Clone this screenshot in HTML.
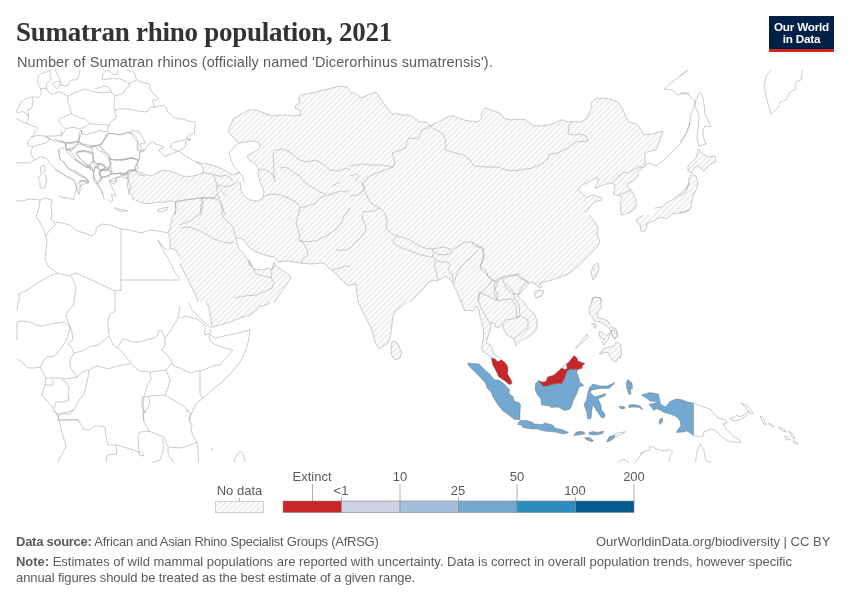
<!DOCTYPE html>
<html><head><meta charset="utf-8">
<style>
html,body{margin:0;padding:0;background:#fff;}
.t,.lg,.ft,#logo{will-change:transform;}
body{width:850px;height:600px;position:relative;overflow:hidden;font-family:"Liberation Sans",sans-serif;}
.t{position:absolute;white-space:nowrap;line-height:1;}
#title{left:16px;top:19px;font-family:"Liberation Serif",serif;font-weight:bold;font-size:27px;color:#333;letter-spacing:-0.26px;}
#sub{left:17px;top:55px;font-size:14.5px;color:#5b5b5b;letter-spacing:0.1px;}
#logo{position:absolute;left:769px;top:16px;width:65px;height:36px;background:#002147;}
#logo .bar{position:absolute;left:0;bottom:0;width:65px;height:3px;background:#ce261e;}
#logo .l{position:absolute;width:65px;text-align:center;color:#fff;font-weight:bold;font-size:11.7px;letter-spacing:-0.2px;}
.lg{position:absolute;font-size:13px;color:#5b5b5b;}
.ft{position:absolute;font-size:13px;color:#5b5b5b;white-space:nowrap;}
.ft b{color:#5b5b5b;}
</style></head><body>
<svg id="map" width="850" height="600" style="position:absolute;left:0;top:0">
<defs><pattern id="nd" patternUnits="userSpaceOnUse" width="4" height="4" patternTransform="rotate(-45 2 2)"><path d="M-1,2 l6,0" stroke="#ccc" stroke-width="0.7"/></pattern></defs>
<path fill="url(#nd)" d="M232,136 228,131 233,119 238,116 249,110 256,110 264,113 272,116 280,115 286,115 294,116 301,115 300,110 295,108 296,105 300,103 299,98 301,95 312,93 324,90 332,88 340,86 347,87 350,91 350,182 260,182 259,178 258,174 259,170 257,166 253,162 249,160 247,156 250,154 254,152 258,150 260,146 259,143 254,141 246,142 239,143 236,140ZM350,93 355,93 361,98 368,95 376,92 385,105 393,115 396,113 402,115 409,115 414,118 420,122 427,122 430,126 438,122 446,118 452,115.6 459,118 464,120 470,121 478,122 482,118 481,114 485,108 494,111 500,113 504,118 510,120 520,119 520,182 350,182ZM645,153 645,160 585,160 585,182 520,182 520,119 526,120 533,125.6 542,126 552,124 562,119.6 568,122 574,121.6 580,122 586,119 589,113 592,108 591,103 595,99 604,98 612,99.6 618,102 622,108 626,117 629,122 636,124 640,128 644,135 652,134 663,131 660,140 656,150 650,151ZM698,149 703,154 708,157 715,156 716,162 710,164 704,171 698,166 694,168 691,173 688,171 688,166 692,162 696,158ZM689,178 692,174 696,176 697.6,182 688,182ZM175,202 180,200 180,258 176,250 170,248 170,238 168,233 170,228 172,218 176,210ZM180,182 350,182 350,302 180,302ZM350,182 520,182 520,302 350,302ZM520,182 585,182 585,182.8 582,185 578,190 582,193 585,196 585,215 589,215 591,217 595,222 598,228 597,234 599,240 597,246 594,251 590,256 584,262 578,268 570,273 562,277 552,280 544,282 539,284 540,288 536,287 530,282 524,280 520,278ZM686,188 690,182 690,210 686,211 680,213 672,214 666,219 660,217 654,221 650,222 647,224 646,229 643,232 641,231 640,225 636,221 637,219 642,216 643,215 655,215 655,207.9 662,207 668,202 674,199 680,194ZM593,280 591,272 594,265 598,263 599,268 595,278ZM536,298 534,292 540,290 544,291 542,296ZM520,294 520,278 524,280 529,283 526,287 522,291ZM592,302 592,299 596,297 601,298 602,302ZM689,182 698,182 697,188 694,194 692,200 691,208 686,212 680,213 680,196 686,192 688,186ZM133,170 135,169.5 135,195 128,195 129,191 131,187 129,183 128,179 129,175 127,172 129,171ZM206,302 270,302 270,303 266,305 260,306 256,311 250,315 240,318 230,322 220,325 212,327 211,320 210,314 209,308ZM358,302 407,302 402,306 396,310 393,316 392,324 391,332 390,339 387,344 383,346 379,349 375,342 373,334 370,326 366,318 362,310ZM392,342 395,341 399,346 401.6,353 400,358 395,360 392,356 391,349ZM140.8,175 145,175.8 145,200 133.3,200 132.5,196.7 130,193.3 128.3,189.2 127.1,185.8 128.3,180.8 127.5,178.3 127.5,175 126.7,171.7 133.3,170 136.7,171.7 138.3,174.2ZM585,160 645.5,160 644.6,165.5 643.7,166.4 641,169.2 638.2,172.8 637.7,176.5 632.7,181.1 627.2,183.8 628.1,187.5 630.8,189.3 633.6,193.9 635.4,198.5 636.3,204 634.5,209.5 629.9,212.2 625.3,214.1 621.7,215 620.7,211.3 620.7,205.8 619.8,201.2 621.7,198.5 619.8,194.8 617.1,195.7 613.4,193.9 614.3,190.2 615.2,184.7 611.6,183.4 604.2,184.3 599.7,186.6 595,188.4 597,183.8 598.7,179.7 597,177.4 590.5,181 585,184.7ZM586.8,211.3 585,213.2 585,198.5 593.2,194.8 597.8,196.7 601.5,197.6 601,200.3 596,201.2 590.5,205.8ZM600,240 598,246 592,252 584,260 576,268 568,274 560,277 552,280 544,282 540,283 542,287 540,288 534,283 528,282 524,285 520,290 518,296 522,300 528,308 534,314 537,320 537,328 534,333 526,338 520,341 516,346 514.4,339 511.4,337.4 507,335 504,330 502.4,324.8 499.4,327.4 495.4,327 495,323.6 491,323 490.4,328.4 489,333.8 488.4,335 487,340 486.4,343.4 490,344.4 492,348 493,351.4 494.4,354.4 497,356.4 499,357 501,359 491.4,357.4 488.4,355 485.4,353 482.4,351 481.8,348.4 482,345 483,340 483.4,335 483.8,333.8 483,328.4 482,322.4 480,317 479.2,311 476,306 473,311 464,310 462,304 460,294 456,286 453,282 450,278 446,279 440,280 440,240ZM136,200.8 135.5,200 145,200 145,182 205,182 205,163.3 214,165.6 220.1,167.9 226.2,170.9 229.3,173.2 232.4,174.8 237,173.2 240,172.5 240,215 175,215 175.8,208.4 175.8,202.3 171.2,200.8 165.1,202.3 158.9,202.3 152.8,203.1 146.7,203.8 140.6,202.3ZM203,173 205,172.5 205,182 125,182 125,175 127,171.5 130,170 134,170 136,171 140,172 146,175 152,176 158,172 163,170.5 170,171 176,173 182,176 190,176.5 198,175ZM196,162 205,164 205,172.5 203,173 203.5,170 202,166 199,163.5ZM614.5,435 617.5,433 625.5,431.8 622,434 617,436.5 614.5,437.5ZM593,297.5 600,297.5 601,302 601,308 598,311.5 597,314 598,318 602,318.5 608,321 610,325.5 612,327.5 616,328.5 617.5,334 614.5,339 611.5,334 610,329 604,324 600,322 594,321 593,318 589.5,314 589,308.5 591,305ZM591.5,323 596.5,324.5 595.5,328.5ZM575.5,348 587,334 588,337 576.5,348.5ZM599,331.5 603,332.5 606,335.5 610,333 609,338 604,345 601.5,342 605,339 600,337.5ZM611.5,330 616,331 618,336 615,339 612,336ZM599,354 604,348.5 608,347.5 613,346 616.5,342 620.5,344 621.5,353 620.5,358 618.5,357 616,362 612,360 609.5,356.5 609,353 605,352.5ZM561.5,368 564.5,364.5 566.5,363.5 567,368.5 565,369.5Z"/>
<path fill="#fff" d="M240,182 260,182 262,186 264,192 263,198 258,201 250,200 244,196 241,190ZM236,239 240,238 244,240 248,246 254,251 262,254 268,256 274,257 276,259 278,262 288,261 300,263 310,264 324,263 329,268 334,272 340,278 346,284 350,286 350,302 274,302 276,300 280,294 284,288 288,282 291,278 288,274 282,270 276,266 274,262 273,266 271,270 268,268 264,270 254,269 251,265 250,261 246,258 244,254 240,250 237,244ZM180,264 183,270 187,278 191,286 195,294 198,302 180,302ZM350,285 356,284 357,294 358,302 350,302ZM410,302 416,296 422,290 427,284 429,282 434,280 437,281 442,278 445,276 448,278 451,280 453,284 455,288 458,294 461,302Z"/>
<path fill="#73a8d0" stroke="#6b6b6b" stroke-width="0.4" stroke-linejoin="round" d="M467.5,363 479,364 484,369 490,374.5 494.5,380 498.5,380 503,383 507,387 509.5,389.5 509,393 510.5,395 513,396.5 514.5,401.5 519,402.5 520.5,405 520,412 520,419.5 514.5,419.5 508,414.5 503,411 498,405 493,397 491,392 487,388 485,382 482,379.5 479,376 475,372 468.5,365.5ZM517.5,424.5 520,420.5 527,420.5 533,422.5 534,424 542.5,424.5 544.5,423 552.5,424.8 555,428 562,429.5 568.5,432.5 563.5,434 555,432 544,431 537.5,429 532,429 523,427.5 521,425ZM538.5,380.5 543,386 548,386 551,384.5 556,383.5 562,383.5 565,377 567,371 570.5,369 575,369.5 579,369 576.5,372 579,378 579.5,382 584,385.5 579,387 577.5,392 575,397 573,401 572,405 570,409 564.5,410.5 558,407 551,407.5 550,406 541.5,405 541,399 537.5,395 535,389 535.5,383.5ZM593,384 600,386 607,386 615,382.5 613,385 609,388.5 600,388.5 592,390 590,392.5 595,397 605.5,393.5 605.5,395.5 598,399 601,405 601.5,410 605,414 604,418 601.5,417.5 598,413 595,408 593,404.5 592,409 591,418.5 587.5,419 587,413 584,404.5 586.5,400 588,392 589.5,387.5ZM628,379.5 632,383 632.5,388.5 630.5,389 631,394 629,394.5 626.5,387.5 626.5,382ZM619,406.5 624,406.5 625.5,408 623,409 620.5,408.5ZM629,405 634,404.5 640,406 643,409.5 639,407.5 634,407 628.5,407.5ZM641.5,395 650,392.5 658.5,394 660.5,404 665.5,407 670,401.5 676,399 681,399.5 688,402 693.5,403 693.5,435.5 690,433 687,431 683,432 676.5,432.5 677.5,430 680,427 681,427 680,421 677,417 670,414 664,412.5 660,410 656,408.5 654.5,410.5 652.5,409 651.5,407 649,404.5 657,402.5 656,401.5 650,401 647.5,399ZM660,419 662.5,418 662.5,422 660,424.5 659,422ZM573.5,435.5 576,432.5 579.5,431.2 584,432 585,433.8 580,434.8ZM589,432.5 593,431.5 598,432.5 603.5,431 603,433.5 596,435 589.5,434.5ZM584.5,438 589,437.2 593.5,440.5 592,441.8 587,440ZM606.5,442 609,437 614.5,435 614.5,437.5 611,440.5Z"/>
<path fill="#c9262a" stroke="#6b6b6b" stroke-width="0.4" stroke-linejoin="round" d="M491.5,357.5 493.5,358.5 496,359.5 497,361.5 499.5,361 501,359.5 505,362.5 507.5,366 508,370 507.5,374 509.5,377 511.5,381 512,383.5 510,384.5 508.5,384 505,381 502,379 498.5,376.5 497.5,374 495,369 493,365.5 492,362ZM538.5,380.5 542.5,382 546,381.5 547.5,377 554,375 560.5,369 561.5,368 565,369.5 567,368.5 566.5,363.5 568,363 574,355.5 577,358 578,361 585,363.5 582.5,365.5 582,368.5 579,369 575,369.5 570.5,369 567,371 565,377 562,383.5 556,383.5 551,384.5 548,386 543,386Z"/>
<path fill="none" stroke="#a8a8a8" stroke-width="0.6" stroke-linejoin="round" d="M228,131 233,119 238,116 249,110 256,110 264,113 272,116 280,115 286,115 294,116 301,115 300,110 295,108 296,105 300,103 299,98 301,95 312,93 324,90 332,88 340,86 347,87 350,91M228,131 232,136 236,140 239,143 246,142 254,141 259,143 260,146 258,150 254,152 250,154 247,156 249,160 253,162 257,166 259,170 258,174 259,178 260,182M239,143 233,148 229,153 231,160 234,166 238,171 242,175 244,182M273,152 273.6,162 274,174 275,182M273,151 282,149 288,151 294,156 300,160 306,162 316,160 324,165 330,170 338,171 346,168 350,170M258,170 264,169 268,171 272,174 274,178M280,168 286,167 292,171 300,176 304,182M180,119 184,119 188,121 195,122M350,93 355,93 361,98 368,95 376,92 385,105 393,115 396,113 402,115 409,115 414,118 420,122 427,122 430,126 438,122 446,118 452,115.6 459,118 464,120 470,121 478,122 482,118 481,114 485,108 494,111 500,113 504,118 510,120 520,119M430,126 427,128 422,130 420,136 416,139 409,138 407,142 405,148 398,151 392,153 395,162 393,167 382,171 374,174 368,177 364,182M350,166 362,164 372,165 382,165 393,167M350,176 356,174 359,176.4 355,181M430,126 434,129 442,133 445,138 446,144 445,150 456,153 464,155 470,160 474,166 486,167 498,167 506,170 512,171 520,170M520,119 526,120 533,125.6 542,126 552,124 562,119.6 568,122 574,121.6 580,122 586,119 589,113 592,108 591,103 595,99 604,98 612,99.6 618,102 622,108 626,117 629,122 636,124 640,128 644,135 652,134 663,131 660,140 656,150 650,151 645,153 645,160M520,170 532,168 542,164 547,160 549,154 557,153 566,149 576,142 588,141 586,136 580,134 574,135 568,134 569,126 572,122M655,165.7 656,166 664,160 672,152 680,144 686,134 689,126 690,122M664,89 672,90 678,95 686,93 690,94M687,70 680,76 672,82 664,89M771,70 766,76 764,86 767,100 771,114 778,108 780,102 786,100 789,93 796,89 795,85 797,81 801,80 802,74 802.4,70M680,93 686,93 691,97 695,102 694,108 691,114 689,126 686,134 680,142M700,92 702,95 704,104 705,114 711,127 705,126 703,130 703,136 706,144 699,146 697,138 698,128 699,118 697,110 695,106 696,99 700,93M698,149 703,154 708,157 715,156 716,162 710,164 704,171 698,166 694,168 691,173 688,171 688,166 692,162 696,158 698,149M689,178 692,174 696,176 697.6,182M688,182 689,178M680,76 688,70M16,201 22,201 30,199 40,200 45,198 52,200M40,200 39,208 36,217 39,221 43,228 46,236M52,200 51,206 52,214 51,219 54,222 55,225 49,231 46,236M55,222 62,223 70,225 75,230 84,233 92,236 96,233 96,228 102,224 110,225 116,227 121,229M121,229 130,230 141,233 150,230 158,231 168,233M121,229 121,291M121,280 180,280M46,236 47,242 46,250 45,259 48,266 57,273 68,276 76,273 96,282 115,291 121,290M71,276 74,282 76,288 74,302M57,273 46,278 36,284 26,291 18,294M19,294 19,302M115,291 115,302M40,182 40,188 45,188 46,182M73.4,195 74,200 68,198 60,197 59,195M108,200 112,202 112.7,200M158,240 164,248 168,250 170,248M158,240 162,248 168,258 172,266 176,274 180,278M180,200 175,202 176,210 172,218 170,228 168,233 170,238 170,248 176,250 180,258M240,182 241,190 244,196 250,200 258,201 263,198 264,192 262,186 260,182M236,239 240,238 244,240 248,246 254,251 262,254 268,256 274,257 276,259 278,262 288,261 300,263 310,264 324,263 329,268 334,272 340,278 346,284 350,286M274,302 276,300 280,294 284,288 288,282 291,278 288,274 282,270 276,266 274,262 273,266 271,270 268,268 264,270 254,269 251,265 250,261 246,258 244,254 240,250 237,244 236,239M180,264 183,270 187,278 191,286 195,294 198,302M180,201 192,199 202,198 214,198 217,194M202,198 201,206 200,214 190,221 180,225M180,228 190,227 198,230 206,234 214,239 223,242 230,243 234,242M216,186 218,196 222,204 222,216 228,222 233,227 235,234 236,238M216,186 220,185 224,187 229,186 234,184 238,182M264,196 272,194 280,195 288,198 294,201 298,204 300,208M300,208 298,216 296,222 298,230 300,236 299,240 302,242M300,240 304,244 308,252 307,256 303,258 301,263M300,241 308,242 318,240 328,235 336,229 342,222 344,216 348,212 350,208M300,208 308,206 316,203 320,198 324,196 332,194 340,191 346,192 350,190M304,182 310,186 320,192 326,194M332,186 336,184 340,182M332,270 340,268 344,266 348,266 350,267M336,250 346,250 350,248M248,260 250,262 252,266 249,265 248,260M253,268 256,274 264,276 271,278 272,270 274,266M234,298 244,296 256,295 266,291 272,288 274,282 271,278M350,285 356,284 357,294 358,302M410,302 416,296 422,290 427,284 429,282 434,280 437,281 442,278 445,276 448,278 451,280 453,284 455,288 458,294 461,302M362,182 364,190 368,198 372,204 380,208 385,213 387,222 386,228 392,234 398,236M398,236 404,238 410,240 416,244 422,247 428,249 433,249 433,257 426,256 418,254 410,251 402,248 394,244 393,240 398,236M433,249 438,248 444,247 450,249 452,252 450,254 442,255 436,254 435,251M452,250 458,246 466,242 472,242 474,246 478,247 482,248 484,254 482,262 480,268 484,272 488,276 492,280 498,282 500,278 506,276 514,275 520,274M434,257 436,260 434,264 436,270 438,280M436,260 440,262 448,262 450,266 448,270 452,274 453,282M478,250 474,254 470,258 465,262 462,266 459,270 456,276 454,284M492,280 490,284 484,290 480,294 478,302M498,282 496,286 494,294 498,302M502,278 506,288 514,294 520,294M350,196 358,195 362,192 365,188 362,182M362,212 374,211 380,208M363,214 362,218 365,224 366,230 362,236 356,242 350,248M690,182 686,188 680,194 674,199 668,202 662,207 655,207.9M643,215 642,216 637,219 636,221 640,225 641,231 643,232 646,229 647,224 650,222 654,221 660,217 666,219 672,214 680,213 686,211 690,210M591,272 594,265 598,263 599,268 595,278 593,280 591,272M534,292 540,290 544,291 542,296 536,298 534,292M520,278 524,280 529,283 526,287 522,291 520,294M592,299 596,297 601,298 602,302M592,302 592,299M585,182.8 582,185 578,190 582,193 585,196M589,215 591,217 595,222 598,228 597,234 599,240M698,182 697,188 694,194 692,200 691,208 686,212 680,213M680,196 686,192 688,186 689,182M55,139 59,142 65,143 70,142.5 75,142 79,141.5M79,135 79,141.5 82,144.5 87,146.5 91,147 95,145.5 99,145 102,142 105,138 107,135M65,143 65.5,148 67.5,149.5 72,148 75.5,145 79,141.8M58.5,149 59,155 60,159 64,162 66,165 69,168 72,170 75,171 78,173 81,175 84,177 87,179 89,182 88,183M66,149 67,152.5 70,154 71.5,156 72.5,158 75,160 78,162 82,164 86,166 89.5,168M76.5,153 79,151 84,150.5 89,151.5 92,153 93,154 92.5,157 93.5,160 93,161.5M76.5,153 78,156 81,159 85,163 89,166 90,167M91,147 92,150 93,153.5M93,161.5 96,163 99,164 101,164 104,166 106,168M99,145 102,148 105,151 107,154 109,155 109.5,158 109,161 110.5,163 110,166 109,169M89.5,165 90,169 93,170.5 95,168 96,167 93,161.5M97,167 100.5,163.5 104,166 105,168 102,169.5 100,170.5 98,169 97,167M93,169 94,171 93.5,175 94,178 96,181 98,184 99.5,181 101,179 102,177M100,170.5 102,169.5 107,169.5 109.5,170 111,172.5 110,175 107,176 104,177 101.5,177.5 99.5,175 99,172M109,159 113,160 117,160 121,159.5 125,159 129,158 133,158.5 135,159M111,174 115,173.5 119,173.5 123,174 127,173 129,171 133,170 135,169.5M98,184 100,188 102,191 103,195M109.5,181 111,182 113,184 115,183 116,178 119,177 122,177 125,178 127,179M55,170 61,173 66,176 71,178 75,181 76.5,185 76.5,189 75,193 75,195M79,181 83,180.5 86,181 88.5,182 88,183 85,184 82,184.5 80,186 79,189 79,195M127,172 129,175 128,179 129,183 131,187 129,191 128,195M18,302 17,310M17,322 22,321 30,322 36,325 42,326 50,324 58,323 63,322 67,324 70,327M17,322 17,340M74,302 73,306 68,311 66,316 68,322 70,327M70,327 69,332 67,339 64,344 60,350 56,355 52,357 48,356 44,360 40,367M17,359 22,362 28,368 34,368 40,367M70,327 72,332 73,340 70,342 68,344 72,348 74,353M74,353 82,351 91,346 98,345 104,340 109,336 111,340 113,345 118,348M115,302 115,311 110,314 108,320 108,328 109,335M118,347 122,340 126,339 132,342 140,342 146,340 154,338 158,335 159,330 162,331 165,339 165,345 162,350M180,306 178,318 172,328 168,334 165,339M89,370 96,366 102,367 108,369 114,367 122,365 130,364M74,353 70,360 70,366 74,373 77,377M118,348 124,354 130,362 134,367 140,371 150,372M162,350 168,356 172,362 174,366 180,368M150,372 158,371 166,370 172,363M150,372 151,379 148,384 146,390 144,396M166,370 170,380 168,388 165,395M148,396 165,395 180,404M77,377 66,379 58,378 46,378 45,385 53,385 53,380M46,378 40,367M45,385 42,395 48,402 53,408 58,416 59,422M77,377 82,372 89,370 88,378 86,386 84,394 79,400 76,406 70,414 62,414 58,416M62,380 66,382 69,388 68,394 69,400 62,402 56,402 54,408M142,398 148,396 150,402 148,408 144,412 142,406 142,398M144,396 143,406 143,414 144,422M59,420 78,420 79,422M206,302 209,308 210,314 211,320 212,327 220,325 230,322 240,318 250,315 256,311 260,306 266,305 270,303 270,302M188,302 192,310 198,316 204,322 208,326 211,328M180,318 186,316 192,318 198,319 206,327M206,328 204,332 205,335 209,334 211,332 210,329M209,334 215,338 224,336 234,334 242,332 250,330 249,338 246,350 240,362 232,372 222,382 212,390 203,398 196,404 193,410 190,416 189,422M209,335 210,340 214,344 222,347 233,350 226,358 220,365 214,365.6 206,369 200,371 196,371 192,373 186,371 180,368M200,371 200,384 200,394 203,398M180,404 184,406 188,411 191,414M358,302 362,310 366,318 370,326 373,334 375,342 379,349 383,346 387,344 390,339 391,332 392,324 393,316 396,310 402,306 407,302M392,342 395,341 399,346 401.6,353 400,358 395,360 392,356 391,349 392,342M52,410 57,414 59,420 61,428 63,436 66,446 63,452 60,458 58,462.4M57,414 62,413 68,412 74,410M59,420 78,419.6 84,430 90,430 94,426 99,426 105,427 106,436 108,445 116,445 117,454 107,455 106,462.4M116,445 124,447 130,449 134,450 138,452 142,452 144,456 139,455 138,436 140,432 150,431M143,410 146,412 143,414 144,422 149,431 156,434 164,437 168,447 180,448M162,438 164,446 162,454 160,460 152,462.4M168,448 168,454 172,460 174,462.4M186,410 191,414 189,420 192,425 191,430 193,436 197,442 198,450 198.4,462.4M180,448 188,446 197,442M234,462.4 235,458 240,451 243,454 245.6,462.4M211,448 213,451M35.2,130 34.5,134.6 31.4,136.9 27.6,142.2 28.4,145.3 32.9,146.8 31.4,149.9 30.6,152.9 32.9,157.5 35.2,159.8M31.4,136.9 37.5,135.4 45.2,136.1 49.8,138.4 48.2,141.5 45.2,143 40.6,144.5 36,145.3 32.9,146.8M45.2,136.1 49.8,139.2 54.4,140.7 62,140.7 66.6,143 72.7,143.8 77.3,140.7 80.4,136.9 79.6,133.8 80.4,130M45.2,136.1 52.8,136.1 60.5,135.4 63.5,133.1 65.1,130M16.1,162.9 23.8,162.9 29.9,162.9 32.9,160.6 35.2,159.8 40.6,156.8 46.7,158.3 49.8,163.6 55.9,169 62,173.6 68.1,177.4 74.2,180.5 75.3,182M58.9,149.1 59.7,159.1 64.3,162.9 67.4,168.2 72.7,171.3 77.3,174.4 81.9,176.7 86.5,178.9 88.8,182M88.8,182 86.5,181.2 81.9,180.5 79.6,182M40.6,166.7 44.4,165.2 45.2,169.8 43.6,172.8 45.9,175.9 46.7,182M39.1,182 38.3,177.4 41.4,174.4 40.6,169.8 40.6,166.7M65.8,143.8 66.6,149.1 71.2,150.6 74.2,148.4 77.3,144.5 81.9,143.8M66.6,149.9 71.2,151.4 74.2,156 77.3,160.6 81.9,164.4 86.5,167.5 89.5,166.7 93.4,167.5M75.8,152.9 83.4,151.4 89.5,152.9 93.4,154.5 93.4,160.6 89.5,165.2 86.5,166.7M91.1,145.3 95.7,146.8 98.7,149.9 103.3,152.9 106.4,156 109.4,159.1 110.9,163.6 107.9,168.2 103.3,164.4 98.7,163.6 97.2,166.7 94.1,168.2M77.3,140.7 81.9,143.8 91.1,145.3 95.7,146.1 101.8,144.5 104.8,139.2 107.9,134.6 109.4,131.5M104.8,136.1 109.4,133.1 117.1,134.6 126.2,133.1 132.4,133.1 137,137.6 138.5,145.3 137,149.9 140,151.4M109.4,159.1 117.1,159.8 126.2,159.1 132.4,158.3 138.5,159.8M110.9,163.6 110.9,169.8 114,173.6 120.1,172.8 126.2,173.6 130.8,172.1 135.4,170.5 138.5,168.2 137,165.2 138.5,160.6M89.5,166.7 92.6,169.8 94.1,175.9 95.7,180.5 97.2,182M99.7,182 101.8,178.9 100.2,174.4 101.8,169.8 106.4,171.3 107.9,168.2M100.2,171.3 107.9,169.8 110.9,172.8 109.4,176.7 101.8,177.4M109.9,182 109.4,180.5 112.5,178.9 117.1,177.4 120.1,175.9 126.2,175.1M137,130 140,131.5M40.4,74 38.3,76.7 37.7,82 38.8,86.3 40.4,88.4 46.8,88.4 46.3,86.3 46.8,84.1 48.4,82 50.5,79.9 51.1,77.7 49.5,75.6 50.5,73.5 50,70.3 47.3,71.3 44.1,72.9 40.4,74M52.7,83.1 59.1,80.9 60.1,83.6 59.1,86.8 56.9,88.9 54.8,86.8 52.7,84.1 52.7,83.1M55.3,70.3 58,75.6 60.1,79.9 61.2,85.2 64.4,85.7 68.1,85.2 69.7,82 71.3,79.9 76.7,79.9 78.3,76.7 79.3,73.5 79.9,70.3M40.4,88.4 41.5,93.7 38.3,97.5 32.9,96.9 29.2,97.5 23.9,99.6 20.7,102.3 18.5,107.6 16.4,111.9 18.5,112.9 22.3,111.3 27.6,115.1 28.7,117.2M32.4,97.5 32.9,100.1 32.4,105.5 31.3,108.7 27.6,109.7 28.1,112.9 28.7,116.1 28.1,120.4 27.1,121.5 26.5,123.6 28.1,124.1M16.4,118.3 20.7,120.9 26.5,123.6M46.8,88.4 47.9,91.1 52.1,94.3 55.9,93.2 59.6,91.6 63.3,93.7 67.6,96.4M67.6,96.4 74,93.2 79.3,91.1 84.7,88.9 88.9,90 92.1,91.6 95,91.6M67.6,96.4 68.1,100.1 67.6,102.3 69.7,106 70.3,109.7 71.9,113.5M71.9,113.5 65.5,116.1 59.6,118.3 59.1,121.5 62.3,125.7 65.5,128.9 69.7,127.9 74,127.3 78.3,128.9 82.5,127.9 86.8,125.7 90,123.6 92.1,124.1 95,123.6M71.9,113.5 74,115.6 78.3,116.1 80.4,118.3 84.7,118.8 87.9,121.5 90,123.1M28.1,124.1 31.3,125.7 37.7,127.3 36.7,130M102.5,79.9 102.5,76.7 103,73.5 105.7,70.8 108.9,70.3 111.5,72.9 113.7,74.5 116.9,74.3 117.6,70.3M127,70.3 132.3,71.3 135,73.5 135.5,76.7 136.6,79.9M102.5,79.9 108.9,78.8 119.5,78.8 122.7,79.9 127,82 129.1,83.6 129.7,86.3M129.7,86.3 127,87.9 124.9,89.5 123.8,92.7 120.6,94.3 117.4,95.3 114.7,95.3M102.5,85.7 105.7,86.3 108.9,87.3 111,90.5 111,92.1 114.7,95.3M95,88.9 98.2,87.9 102.5,86.8M95,92.1 101.4,92.7 111,92.1M114.7,95.3 114.7,99.1 113.7,104.4 114.2,108.7 115.3,110.8M129.1,83.6 136.6,79.9 140.9,82 145.1,83.1 149.4,84.1 150.5,86.3 149.9,88.9 152.6,92.7 155.8,95.9 158.5,98.5 156.3,100.1 152.6,100.1 153.7,104.4 154.7,107.1M114.7,110.8 119.5,108.7 125.9,108.7 132.3,109.7 139.8,111.3 145.1,111.9 148.3,111.3 148.9,108.7 150.5,107.6 154.7,107.1M114.7,110.8 115.8,115.1 116.3,118.3 112.1,120.4 109.4,123.6 107.8,130M154.7,107.1 159,106 164.3,105.5 166.5,107.6 167.5,111.9 171.8,115.1 173.9,117.7 180,119.3M95,124.7 100.3,124.1 105.7,124.7 108.9,125.7M75.8,152.5 78.3,151.2 84.2,151.2 89.2,151.7 92.5,152.5 92.9,155.8 93.3,159.2 94.6,160.8M75,159.2 78.3,160.8 81.7,163.3 85,165.8 88.3,167.5 91.7,169.2 93.8,170.8M76.7,154.2 80,158.3 83.3,161.7 86.7,165 89.6,166.7M89.6,166.7 91.2,162.5 94.6,160.8 97.5,164.6 95,167.5 93.8,170.8M97.5,164.6 100,163.3 102.5,165 105,167.9 102.5,169.6 100,170 98.3,167.9 97.5,164.6M101.7,150 105,152.5 108.3,154.2 109.2,157.5 110,160 111.2,162.9 110,165 108.8,167.5 108.3,169.2M93.8,170.8 93.3,176.7 93.8,180.8 96.7,184.2 99.2,180 100.8,177.5 100,174.2 99.6,170.8 98.3,167.9 95,167.5M100,170 105,168.8 108.3,169.2 110.8,170.8 111.7,174.2 108.3,175.4 104.2,176.7 100.8,177.1 99.2,174.2 99.6,170.8M109.2,157.5 110.8,159.2 116.7,160 123.3,160 128.3,158.8 132.5,157.5 135.8,159.6 138.3,160.4 137.1,163.3 135,166.7 135.8,170 133.3,170 130,170 127.5,171.7 125,174.2 121.7,173.8 118.3,173.3 115,174.2 111.7,174.2M138.3,160.4 140,157.5 139.2,153.3 140.8,150.8 145,150M96.7,184.2 99.2,188.3 101.7,191.7 103.3,195.8 104.2,200M127.5,171.7 126.7,171.7M115,178.3 117.5,180 116.7,181.7 114.2,180.8 110.8,180.8 110,182.5 111.7,186.7 113.3,190 115,193.3 115.8,196.7 114.2,195 111.7,194.2 112.5,200M75,170 77.5,172.5 81.7,175.8 85.8,178.3 88.3,181.7 86.7,183.3M86.7,183.3 83.3,180.8 80,181.7 78.3,183.3 80.8,185 81.7,190 78.3,193.3 77.5,190 75.8,185 75,183.3M126.7,171.7 127.5,175 127.5,178.3 128.3,180.8 127.1,185.8 128.3,189.2 130,193.3 132.5,196.7 133.3,200M133.3,170 136.7,171.7 138.3,174.2 140.8,175 145,175.8M645.5,160 644.6,165.5 643.7,166.4 641,169.2 638.2,172.8 637.7,176.5 632.7,181.1 627.2,183.8 628.1,187.5 630.8,189.3 633.6,193.9 635.4,198.5 636.3,204 634.5,209.5 629.9,212.2 625.3,214.1 621.7,215M621.7,215 620.7,211.3 620.7,205.8 619.8,201.2 621.7,198.5 619.8,194.8 617.1,195.7 613.4,193.9 614.3,190.2 615.2,184.7 611.6,183.4 604.2,184.3 599.7,186.6 595,188.4 597,183.8 598.7,179.7 597,177.4 590.5,181 585,184.7M611.6,182.9 615.2,179.2 621.7,173.7 624.4,172.4 629,172.8 630.8,171 636.3,168.2 640,166.4 642.7,168.2 644.6,165.5M619.8,194.8 625.3,192.1 629.9,191.6 630.8,189.3M644.6,165.5 650,163.2 655,165.5M585,198.5 593.2,194.8 597.8,196.7 601.5,197.6 601,200.3 596,201.2 590.5,205.8 586.8,211.3 585,213.2M81.6,130 82,133.5 86,135 90,133.5 96,132 100,130.5 104,131.5 107.5,131.5 108.1,130M81.5,130 81.5,134 79.5,135.5 79,139 78.5,142M60,141.5 66,143 72,142.5 78.5,142M78.5,142 83,145 87,147 91,147.5 95,146 99,145M109,133.5 107,135 105,138 103,142 101,144 99,145M91,147.5 93,150M99,145 101,148 102.3,150M109,133.5 114,133.5 120,135M66,143 65.5,147 66,150M66,150 69,149 73,149 76,146 78.5,143.5M60,148 64,148.5M60,130 62,132 61,136 62,137M600,240 598,246 592,252 584,260 576,268 568,274 560,277 552,280 544,282 540,283 542,287 540,288 534,283 528,282 524,285 520,290 518,296 522,300 528,308 534,314 537,320 537,328 534,333 526,338 520,341 516,346 514.4,339 511.4,337.4 507,335 504,330 502.4,324.8 499.4,327.4 495.4,327 495,323.6 491,323 490.4,328.4 489,333.8 488.4,335 487,340 486.4,343.4 490,344.4 492,348 493,351.4 494.4,354.4 497,356.4 499,357 501,359M491.4,357.4 488.4,355 485.4,353 482.4,351 481.8,348.4 482,345 483,340 483.4,335 483.8,333.8 483,328.4 482,322.4 480,317 479.2,311 476,306 473,311 464,310 462,304 461,300M472,242 483,248 484,258 480,266 487,272 488,277 495,281 500,278 504,278 516,275 524,279 528,282M495,281 494,288 498,294 496,300 500,300 512,299 516,306 517,318 520,316M506,284 514,292 514,298 519,304 520,316 528,320 528,328 520,334 514.4,339M502.4,324.8 506,320 512,319 520,316M479,292 478,299 481,308 484,313 489,322 491,323M479,292 492,298 496,300M135.5,200 136,200.8 140.6,202.3 146.7,203.8 152.8,203.1 158.9,202.3 165.1,202.3 171.2,200.8 175.8,202.3 175.8,208.4 175,215M205,163.3 214,165.6 220.1,167.9 226.2,170.9 229.3,173.2 232.4,174.8 237,173.2 240,172.5M205,173.6 207.9,173.2 214,174.8 215.5,180.9 217.1,185.5 220.1,188.5 223.2,193.1 226.2,196.2M175.8,202.3 183.4,200 192.6,199.2 201.8,197.7 210.9,197.7 217.1,199.2 220.1,203.8 223.2,208.4 224.7,215M201.8,197.7 203.3,202.3 201.8,208.4 201,215M214,174.8 220.1,176.3 226.2,175.5 230.8,177.8 232.4,180.9M157.4,209.9 162,208.4 168.1,206.9 166.6,209.9 162,211.5 158.2,212.2 157.4,209.9M114.6,207.7 119.2,209.2 123.8,209.9 127.6,210.7 122.2,211.5 116.1,209.9 114.6,207.7M130,132 133,136 136,140 137.5,142 137,146 137.5,149 139,150 141.5,150M127,132 130,132 133,130.5 136,131.5 140.5,133.5 141.5,135.5 143.5,139.5 145.5,143 144,144 141,143.5 140.5,146 141.5,148.5 143.5,150 144.5,151M120,135 124,134 127,132M120,160.5 124,160 128,158.5 132,157.5 135,159 138.5,160.5M144.5,151 140,152 139.5,156 138.5,160 136.5,165 135,168 136,171M144.5,151 147,147 149.5,143 152,142 154.5,142.5 155,144 159,145 163,146.5 163.5,148 160,149 158,150.5 161,152 163,154 165,156.5 168,155 172,153.5 176,152 178,151 180,151M178,151 174,150 171,148 170.5,145 173,143 178,141.5 184,140 188,139 191,139.5 189,140.5 185,142 186,145 184,148 180,150.5M194,122 196,124 194.5,128 194.5,133 190,135 187,137 186.5,138.5 189,139 191,139.5M179,151 184,155 190,158.5 196,162 205,164M125,175 127,171.5 130,170 134,170 136,171 140,172 146,175 152,176 158,172 163,170.5 170,171 176,173 182,176 190,176.5 198,175 203,173 205,172.5M120,174 125,175M196,162 199,163.5 202,166 203.5,170 203,173M614.5,435 617.5,433 625.5,431.8 622,434 617,436.5 614.5,437.5 614.5,435M593,297.5 600,297.5 601,302 601,308 598,311.5 597,314 598,318 602,318.5 608,321 610,325.5 612,327.5 616,328.5 617.5,334 614.5,339 611.5,334 610,329 604,324 600,322 594,321 593,318 589.5,314 589,308.5 591,305 593,297.5M591.5,323 596.5,324.5 595.5,328.5 591.5,323M575.5,348 587,334 588,337 576.5,348.5 575.5,348M599,331.5 603,332.5 606,335.5 610,333 609,338 604,345 601.5,342 605,339 600,337.5 599,331.5M611.5,330 616,331 618,336 615,339 612,336 611.5,330M599,354 604,348.5 608,347.5 613,346 616.5,342 620.5,344 621.5,353 620.5,358 618.5,357 616,362 612,360 609.5,356.5 609,353 605,352.5 599,354M561.5,368 564.5,364.5 566.5,363.5M693.5,403 704,407 710,409 718,418 726,420 727,423 723,424 726,429 734,437 740,440 741,442.4 734,442 728,441 722,437 715,430 710,429 704,432 703,436 700,437 693.5,435.5M729.6,418.4 733,421 740,420 746,416 749,412 747.6,411 744,415 739,417 737,415 733,418 729.6,418.4M741,403 748,406 753,413 751,414 746,408 741,403M760,416 764,419 766,425 763,423 760,416M769,423 774,426 773,427 769,424.5 769,423M778,427 784,429 786,432 781,430 778,427M789,431 793,434 795,439 792,437 789,431M784.4,436 788,437 790.4,440 786,439.5 784.4,436M793,441 797,442 798,444 794,443.5 793,441M640,454 644,451.5 650,450 649.5,446.5 652,447 658,449.5 664,451 670,449.5 672.5,452 670,456 669,462M695.5,462 697,451 700.5,444 704,451 706,461 711,462M617.5,462 624,459.2 629,462.5M635.5,462.5 640,456 645,451"/>
</svg>
<div class="t" id="title">Sumatran rhino population, 2021</div>
<div class="t" id="sub">Number of Sumatran rhinos (officially named 'Dicerorhinus sumatrensis').</div>
<div id="logo"><div class="l" style="top:4.3px;left:0px">Our World</div><div class="l" style="top:16.2px;left:0px">in Data</div><div class="bar"></div></div>

<svg width="850" height="600" style="position:absolute;left:0;top:0">
<rect x="215.5" y="501.5" width="48" height="11" fill="url(#nd)" stroke="#c4c4c4" stroke-width="0.8"/>
<line x1="239.5" y1="498" x2="239.5" y2="501" stroke="#b0b0b0"/>
<g stroke="#b0b0b0" stroke-width="1">
<line x1="312.5" y1="484" x2="312.5" y2="501"/>
<line x1="341.5" y1="497" x2="341.5" y2="501"/>
<line x1="400" y1="484" x2="400" y2="501"/>
<line x1="458.5" y1="497" x2="458.5" y2="501"/>
<line x1="517" y1="484" x2="517" y2="501"/>
<line x1="575.5" y1="497" x2="575.5" y2="501"/>
<line x1="634" y1="484" x2="634" y2="501"/>
</g>
<g stroke="#888" stroke-width="0.6">
<rect x="283" y="501" width="58.5" height="11.5" fill="#c9262a"/>
<rect x="341.5" y="501" width="58.5" height="11.5" fill="#cfd1e6"/>
<rect x="400" y="501" width="58.5" height="11.5" fill="#a6bddb"/>
<rect x="458.5" y="501" width="58.5" height="11.5" fill="#74a9cf"/>
<rect x="517" y="501" width="58.5" height="11.5" fill="#2b8cbe"/>
<rect x="575.5" y="501" width="58.5" height="11.5" fill="#045a8d"/>
</g>
</svg>
<div class="lg" style="left:215px;top:482.5px;width:49px;text-align:center">No data</div>
<div class="lg" id="lExt" style="left:282px;top:468.5px;width:60px;text-align:center">Extinct</div>
<div class="lg" style="left:321px;top:482.5px;width:40px;text-align:center">&lt;1</div>
<div class="lg" style="left:380px;top:468.5px;width:40px;text-align:center">10</div>
<div class="lg" style="left:438px;top:482.5px;width:40px;text-align:center">25</div>
<div class="lg" style="left:497px;top:468.5px;width:40px;text-align:center">50</div>
<div class="lg" style="left:555px;top:482.5px;width:40px;text-align:center">100</div>
<div class="lg" style="left:614px;top:468.5px;width:40px;text-align:center">200</div>

<div class="ft" style="left:16px;top:534px;letter-spacing:-0.26px"><b>Data source:</b> African and Asian Rhino Specialist Groups (AfRSG)</div>
<div class="ft" style="right:20px;top:534px">OurWorldinData.org/biodiversity | CC BY</div>
<div class="ft" style="left:16px;top:554px;letter-spacing:-0.02px"><b>Note:</b> Estimates of wild mammal populations are reported with uncertainty. Data is correct in overall population trends, however specific</div>
<div class="ft" style="left:16px;top:569.5px;letter-spacing:-0.1px">annual figures should be treated as the best estimate of a given range.</div>
</body></html>
